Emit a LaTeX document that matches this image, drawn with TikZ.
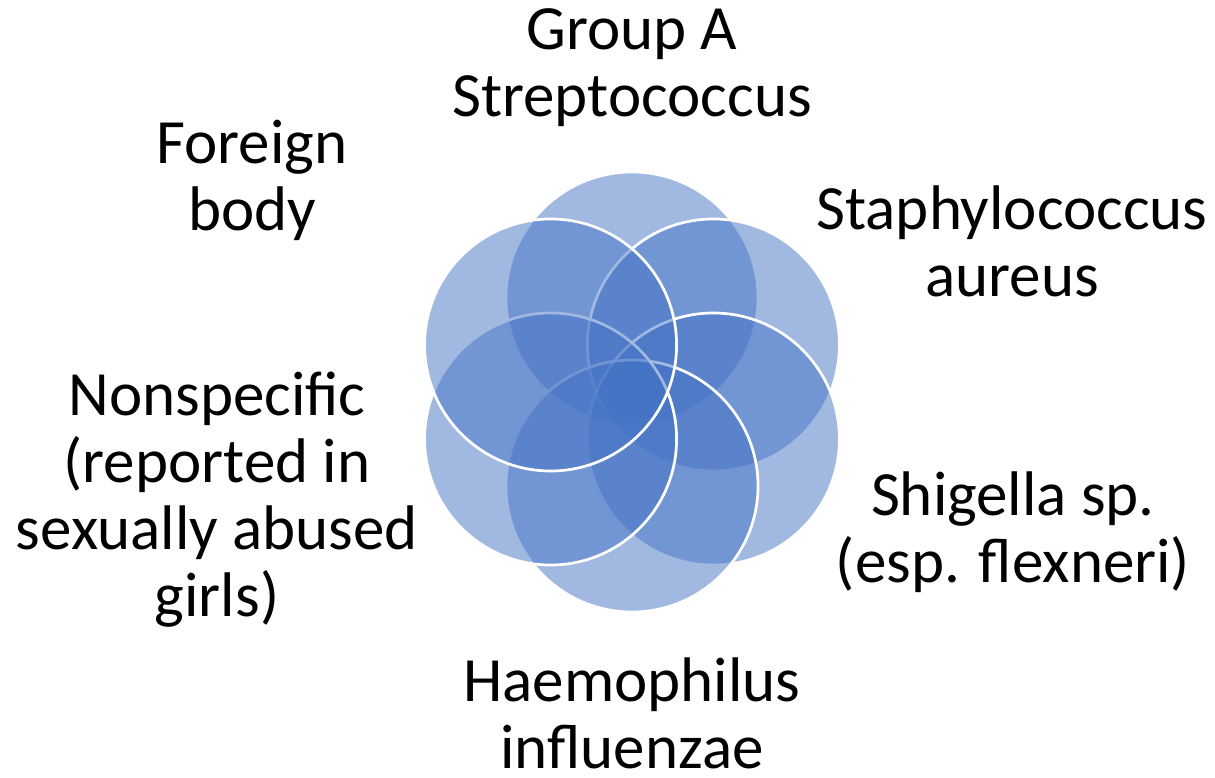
\documentclass[tikz,border=0pt]{standalone}
\usepackage{fontspec}
\setmainfont{Carlito}
\usepackage{tikz}
\usetikzlibrary{positioning}
\definecolor{petalblue}{HTML}{4472C4}
\newcommand{\labfont}{\fontsize{63}{67}\selectfont}

\begin{document}
\begin{tikzpicture}[
    x=1pt, y=1pt,
    petal/.style={circle, minimum size=252pt, inner sep=0pt, fill=petalblue,
      fill opacity=0.5, draw=white, draw opacity=1, line width=2.7pt},
    lab/.style={align=center, font=\labfont, text=black, inner sep=0pt}
  ]
    \useasboundingbox (0,0) rectangle (1215,777);
    \coordinate (hub) at (632,385);
    % petals, clockwise from the top
    \node[petal] (gas)   at ([shift={(90:94)}]hub)  {};
    \node[petal] (staph) at ([shift={(30:94)}]hub)  {};
    \node[petal] (shig)  at ([shift={(-30:94)}]hub) {};
    \node[petal] (haem)  at ([shift={(-90:94)}]hub) {};
    \node[petal] (nons)  at ([shift={(-150:94)}]hub) {};
    \node[petal] (forb)  at ([shift={(150:94)}]hub) {};
    % labels
    \node[lab] (gaslab)   at (632,709)  {Group A\\Streptococcus};
    \node[lab] (staphlab) at (1012,536) {Staphylococcus\\aureus};
    \node[lab] (shiglab)  at (1013,245) {Shigella sp.\\(esp. flexneri)};
    \node[lab] (haemlab)  at (632,64)   {Haemophilus\\influenzae};
    \node[lab] (nonslab)  at (217,277)  {Nonspecific\\(reported in\\sexually abused\\girls)};
    \node[lab] (forblab)  at (252,597)  {Foreign\\body};
  \end{tikzpicture}
\end{document}
